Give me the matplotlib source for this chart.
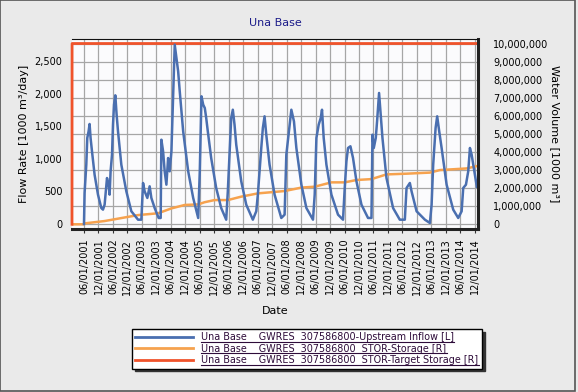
from datetime import datetime

import matplotlib
matplotlib.use("Agg")
import matplotlib.pyplot as plt
import matplotlib.dates as mdates
from matplotlib.lines import Line2D
from matplotlib.patches import Rectangle
from matplotlib.ticker import FuncFormatter, MultipleLocator

# Upstream inflow [1000 m3/day], time as decimal year
inflow_t = [2001.414, 2001.435, 2001.494, 2001.528, 2001.573, 2001.608, 2001.642,
            2001.691, 2001.781, 2001.898, 2002.013, 2002.071, 2002.127, 2002.210, 2002.265,
            2002.300, 2002.334, 2002.383, 2002.417, 2002.452, 2002.497, 2002.542, 2002.590,
            2002.705, 2002.878, 2003.051, 2003.283, 2003.397, 2003.456, 2003.511, 2003.604,
            2003.684, 2003.743, 2003.857, 2003.995, 2004.065, 2004.089, 2004.148, 2004.203,
            2004.262, 2004.321, 2004.376, 2004.435, 2004.494, 2004.549, 2004.608, 2004.667,
            2004.722, 2004.840, 2005.013, 2005.186, 2005.359, 2005.414, 2005.473, 2005.532,
            2005.587, 2005.636, 2005.691, 2005.808, 2005.981, 2006.154, 2006.327, 2006.383,
            2006.442, 2006.500, 2006.556, 2006.615, 2006.674, 2006.847, 2007.020, 2007.248,
            2007.366, 2007.421, 2007.539, 2007.594, 2007.653, 2007.712, 2007.826, 2007.999,
            2008.231, 2008.345, 2008.404, 2008.518, 2008.577, 2008.667, 2008.750, 2008.923,
            2009.096, 2009.324, 2009.383, 2009.442, 2009.521, 2009.591, 2009.636, 2009.694,
            2009.788, 2009.961, 2010.189, 2010.362, 2010.421, 2010.480, 2010.535, 2010.618,
            2010.708, 2010.826, 2010.999, 2011.227, 2011.345, 2011.380, 2011.425, 2011.494,
            2011.539, 2011.608, 2011.656, 2011.725, 2011.864, 2012.092, 2012.324, 2012.497,
            2012.556, 2012.670, 2012.729, 2012.902, 2013.189, 2013.362, 2013.421, 2013.476,
            2013.559, 2013.614, 2013.684, 2013.767, 2013.940, 2014.168, 2014.341, 2014.459,
            2014.514, 2014.608, 2014.687, 2014.746, 2014.805, 2014.860, 2014.985]
inflow_v = [0, 475, 910, 1320, 1420, 1534, 1320,
            1115, 756, 450, 245, 220, 296, 705, 603,
            450, 808, 1063, 1523, 1830, 1974, 1677, 1422,
            910, 501, 195, 66, 66, 629, 501, 399,
            578, 399, 245, 92, 92, 1293, 1115, 808,
            603, 1012, 808, 1115, 1983, 2751, 2546, 2342,
            2035, 1422, 808, 399, 92, 808, 1959, 1830,
            1779, 1626, 1422, 1012, 552, 245, 66, 501,
            1063, 1626, 1753, 1523, 1216, 655, 296, 66,
            195, 450, 1166, 1473, 1652, 1370, 910, 450,
            92, 143, 1063, 1523, 1753, 1575, 1166, 603,
            245, 66, 450, 1320, 1523, 1626, 1753, 1320,
            910, 450, 143, 66, 552, 962, 1166, 1192,
            1012, 655, 296, 92, 92, 1370, 1166, 1320,
            1575, 2010, 1729, 1320, 706, 245, 66, 66,
            552, 629, 501, 195, 66, 15, 296, 910,
            1473, 1652, 1422, 1166, 603, 220, 92, 195,
            552, 603, 808, 1166, 1063, 910, 570]

# Storage [1000 m3]
storage_t = [2001.000, 2001.414, 2001.435, 2002.127, 2003.283, 2003.975, 2004.435, 2004.896,
             2005.359, 2005.577, 2005.923, 2006.383, 2006.847, 2007.421, 2008.345, 2008.923,
             2009.383, 2009.961, 2010.421, 2010.826, 2011.345, 2011.864, 2012.556, 2013.362,
             2013.709, 2014.632, 2014.985]
storage_v = [0, 0, 50000, 180000, 510000, 610000, 880000, 1070000,
             1100000, 1220000, 1340000, 1340000, 1530000, 1710000, 1840000, 2030000,
             2080000, 2320000, 2320000, 2450000, 2500000, 2760000, 2800000, 2860000,
             3000000, 3090000, 3220000]

# Target storage [1000 m3]
target_t = [2001.000, 2001.003, 2015.000]
target_v = [0, 10000000, 10000000]

labels = ["Una Base    GWRES  307586800-Upstream Inflow [L]",
          "Una Base    GWRES  307586800  STOR-Storage [R]",
          "Una Base    GWRES  307586800  STOR-Target Storage [R]"]


def to_dates(ts):
    out = []
    for t in ts:
        y = int(t)
        a = datetime(y, 1, 1)
        b = datetime(y + 1, 1, 1)
        out.append(a + (b - a) * (t - y))
    return out


col_blue = "#4a6fb0"
col_orange = "#f6a24e"
col_red = "#f0532b"
col_legend_txt = "#2e0c3a"

plt.rcParams['font.family'] = ['DejaVu Sans']
fig = plt.figure(figsize=(5.78, 3.92), dpi=100)
fig.patch.set_facecolor("#eaeaea")
# outer frame of the picture
fig.add_artist(Rectangle((0.0, 0.003), 0.995, 0.997, transform=fig.transFigure,
                         fill=False, edgecolor="#555555", lw=1.2))

ax = fig.add_axes([72 / 578, 1 - 229 / 392, 406 / 578, 190 / 392])
ax2 = ax.twinx()
# right axis carries background and grid, left axis (inflow) drawn on top
ax2.set_zorder(0)
ax.set_zorder(1)
ax.patch.set_visible(False)
ax2.patch.set_visible(True)
ax2.patch.set_facecolor("#fbfbfd")

ax2.plot(to_dates(storage_t), storage_v, color=col_orange, lw=1.8)
ax2.plot(to_dates(target_t), target_v, color=col_red, lw=2.0, clip_on=False)
ax.plot(to_dates(inflow_t), inflow_v, color=col_blue, lw=1.8)

ax.set_xlim(datetime(2001, 1, 1), datetime(2015, 1, 10))
ax.set_ylim(-77, 2838)
ax2.set_ylim(-260000, 10250000)

ax.xaxis.set_major_locator(mdates.MonthLocator(bymonth=[6, 12], bymonthday=1))
ax.xaxis.set_major_formatter(mdates.DateFormatter("%m/%d/%Y"))
ax.yaxis.set_major_locator(MultipleLocator(500))
ax2.yaxis.set_major_locator(MultipleLocator(1000000))
comma = FuncFormatter(lambda v, p: "{:,.0f}".format(v))
ax.yaxis.set_major_formatter(comma)
ax2.yaxis.set_major_formatter(comma)

ax.tick_params(axis='x', labelrotation=90, labelsize=7, length=3, pad=4, color="#333333")
ax.tick_params(axis='y', labelsize=7, length=0, pad=7)
ax2.tick_params(axis='y', labelsize=7, length=0, pad=11)

# grid lives on the back axis
ax2.xaxis.set_visible(True)
ax2.tick_params(axis='x', bottom=False, labelbottom=False, top=False, labeltop=False)
ax2.grid(True, axis='both', color="#a6a6a6", lw=0.9)
ax.grid(False)

for a in (ax, ax2):
    for s in a.spines.values():
        s.set_visible(False)
ax.spines['top'].set_visible(True)
ax.spines['top'].set_color("#111111")
ax.spines['right'].set_visible(True)
ax.spines['right'].set_color("#222222")
ax.spines['right'].set_linewidth(2.2)
ax.spines['bottom'].set_visible(True)
ax.spines['bottom'].set_color("#222222")
ax.spines['bottom'].set_linewidth(2.2)

ax.set_title("Una Base", fontsize=8, color="#1c1c8a", pad=9)
ax.set_xlabel("Date", fontsize=8, labelpad=8)
ax.set_ylabel("Flow Rate [1000 m\u00b3/day]", fontsize=8, labelpad=4)
ax2.set_ylabel("Water Volume [1000 m\u00b3]", fontsize=8, rotation=270, labelpad=8)

handles = [Line2D([], [], color=col_blue, lw=2),
           Line2D([], [], color=col_orange, lw=2),
           Line2D([], [], color=col_red, lw=2)]
leg = fig.legend(handles, labels, loc='upper left', bbox_to_anchor=(132 / 578, 1 - 329 / 392),
                 fontsize=6.9, frameon=True, fancybox=False, shadow={'color': '#333333', 'alpha': 1},
                 handlelength=6.0, handletextpad=0.9, labelspacing=0.15, borderpad=0.35,
                 borderaxespad=0, edgecolor="black", facecolor="white", framealpha=1)
leg.get_frame().set_linewidth(1.0)
for t in leg.get_texts():
    t.set_color(col_legend_txt)

# underline the legend entries
fig.canvas.draw()
r = fig.canvas.get_renderer()
inv = fig.transFigure.inverted()
for t in leg.get_texts():
    bb = t.get_window_extent(r)
    x0, y0 = inv.transform((bb.x0, bb.y0 + 0.6))
    x1, _ = inv.transform((bb.x1, bb.y0 + 0.6))
    fig.add_artist(Line2D([x0, x1], [y0, y0], transform=fig.transFigure,
                          color=col_legend_txt, lw=0.8, zorder=10))

fig.savefig("out.png", dpi=100, facecolor=fig.get_facecolor())
